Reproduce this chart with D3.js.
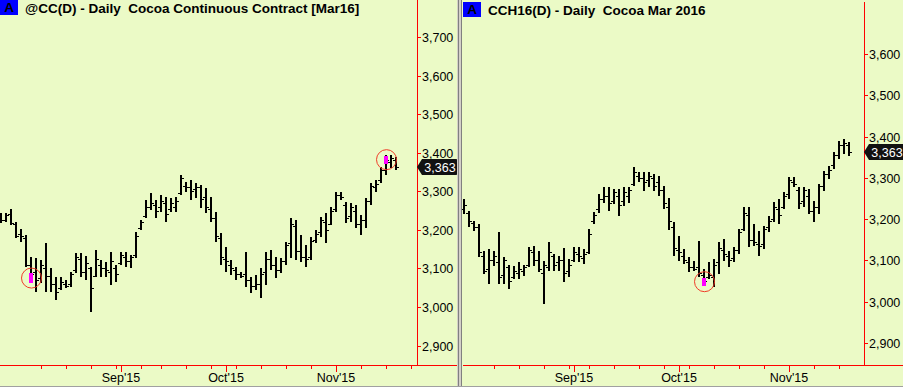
<!DOCTYPE html>
<html lang="en">
<head>
    <meta charset="UTF-8">
    <title>Cocoa daily bars</title>
    <script src="https://d3js.org/d3.v7.min.js"></script>
    <style>
        body {
            margin: 0;
            padding: 0;
            background-color: #ebfac6;
        }

        #chart {
            display: block;
            font-family: "Liberation Sans", Arial, sans-serif;
        }

        .title {
            font-size: 13.5px;
            font-weight: bold;
            white-space: pre;
        }

        .axis-label {
            font-size: 12.5px;
            fill: #000;
        }
    </style>
</head>
<body>
<svg id="chart" width="903" height="387"></svg>

<script>
    // Bars are [open, high, low, close]
    const leftBars = [
        [3235, 3244, 3218, 3225], [3225, 3244, 3220, 3238], [3240, 3254, 3213, 3218], [3215, 3220, 3179, 3185],
        [3190, 3202, 3169, 3185], [3180, 3187, 3104, 3110], [3110, 3130, 3062, 3085], [3090, 3127, 3039, 3070],
        [3075, 3122, 3062, 3110], [3100, 3166, 3039, 3080], [3080, 3101, 3039, 3060], [3060, 3078, 3018, 3040],
        [3050, 3078, 3044, 3065], [3060, 3070, 3049, 3055], [3060, 3091, 3052, 3085], [3095, 3140, 3088, 3130],
        [3125, 3140, 3078, 3090], [3090, 3132, 3070, 3115], [3100, 3104, 2987, 3050], [3080, 3148, 3078, 3125],
        [3110, 3122, 3078, 3100], [3100, 3117, 3078, 3095], [3090, 3143, 3057, 3120], [3100, 3109, 3065, 3085],
        [3115, 3143, 3109, 3135], [3130, 3143, 3104, 3120], [3120, 3135, 3101, 3130], [3135, 3194, 3127, 3185],
        [3205, 3226, 3200, 3220], [3235, 3277, 3231, 3260], [3260, 3296, 3252, 3270], [3265, 3277, 3231, 3250],
        [3260, 3290, 3246, 3275], [3270, 3285, 3220, 3240], [3255, 3283, 3246, 3270], [3260, 3285, 3246, 3275],
        [3295, 3342, 3290, 3335], [3315, 3324, 3298, 3310], [3310, 3329, 3277, 3300], [3305, 3322, 3283, 3310],
        [3310, 3316, 3257, 3280], [3285, 3309, 3244, 3260], [3255, 3285, 3220, 3230], [3230, 3246, 3169, 3185],
        [3180, 3192, 3109, 3130], [3125, 3156, 3091, 3120], [3110, 3122, 3083, 3100], [3095, 3104, 3070, 3085],
        [3085, 3091, 3075, 3080], [3085, 3143, 3052, 3070], [3070, 3078, 3036, 3055], [3055, 3083, 3044, 3060],
        [3060, 3101, 3023, 3085], [3090, 3143, 3057, 3125], [3125, 3148, 3096, 3110], [3110, 3130, 3075, 3095],
        [3095, 3127, 3088, 3120], [3120, 3169, 3109, 3160], [3165, 3231, 3127, 3215], [3210, 3226, 3122, 3145],
        [3145, 3187, 3117, 3130], [3130, 3161, 3104, 3125], [3130, 3182, 3122, 3170], [3175, 3200, 3166, 3190],
        [3195, 3233, 3182, 3225], [3220, 3244, 3166, 3200], [3215, 3259, 3213, 3250], [3255, 3298, 3246, 3290],
        [3290, 3298, 3277, 3285], [3265, 3272, 3218, 3230], [3235, 3270, 3220, 3260], [3250, 3264, 3205, 3215],
        [3215, 3239, 3187, 3225], [3225, 3283, 3205, 3275], [3275, 3322, 3264, 3315], [3310, 3329, 3298, 3320],
        [3330, 3363, 3322, 3355], [3355, 3394, 3342, 3380], [3375, 3394, 3360, 3385], [3380, 3389, 3355, 3363]
    ];

    const rightBars = [
        [3225, 3249, 3213, 3235], [3215, 3220, 3182, 3195], [3190, 3196, 3172, 3180], [3180, 3189, 3109, 3120],
        [3110, 3124, 3068, 3075], [3080, 3128, 3044, 3100], [3100, 3124, 3087, 3110], [3095, 3170, 3044, 3060],
        [3065, 3109, 3044, 3100], [3085, 3090, 3031, 3050], [3060, 3087, 3056, 3075], [3070, 3097, 3056, 3080],
        [3075, 3090, 3063, 3085], [3090, 3133, 3085, 3125], [3120, 3136, 3087, 3100], [3100, 3124, 3073, 3080],
        [3070, 3099, 2995, 3090], [3085, 3145, 3075, 3120], [3110, 3116, 3075, 3090], [3095, 3111, 3075, 3100],
        [3100, 3131, 3048, 3070], [3075, 3104, 3061, 3090], [3100, 3133, 3097, 3120], [3115, 3133, 3097, 3110],
        [3105, 3128, 3092, 3115], [3120, 3177, 3116, 3165], [3195, 3218, 3189, 3210], [3225, 3262, 3216, 3250],
        [3250, 3279, 3240, 3255], [3255, 3279, 3220, 3240], [3245, 3274, 3237, 3265], [3255, 3274, 3208, 3235],
        [3245, 3279, 3233, 3265], [3255, 3279, 3240, 3270], [3285, 3327, 3281, 3315], [3305, 3315, 3291, 3300],
        [3300, 3315, 3269, 3290], [3295, 3315, 3279, 3305], [3300, 3310, 3269, 3280], [3290, 3305, 3257, 3270],
        [3270, 3281, 3225, 3240], [3230, 3252, 3174, 3195], [3180, 3194, 3111, 3130], [3125, 3160, 3099, 3120],
        [3110, 3128, 3092, 3100], [3095, 3109, 3073, 3085], [3085, 3099, 3075, 3080], [3085, 3148, 3061, 3070],
        [3065, 3080, 3039, 3050], [3060, 3097, 3056, 3065], [3060, 3104, 3036, 3090], [3095, 3145, 3068, 3130],
        [3125, 3153, 3099, 3115], [3110, 3124, 3085, 3100], [3105, 3133, 3097, 3125], [3125, 3177, 3116, 3170],
        [3175, 3230, 3172, 3215], [3210, 3230, 3133, 3150], [3150, 3189, 3136, 3145], [3140, 3172, 3111, 3135],
        [3140, 3184, 3128, 3175], [3180, 3208, 3170, 3195], [3200, 3242, 3194, 3230], [3225, 3249, 3189, 3210],
        [3230, 3266, 3225, 3255], [3260, 3303, 3249, 3295], [3290, 3303, 3279, 3285], [3270, 3279, 3225, 3240],
        [3245, 3279, 3230, 3270], [3255, 3274, 3213, 3220], [3220, 3245, 3194, 3230], [3230, 3286, 3213, 3280],
        [3280, 3317, 3269, 3310], [3310, 3329, 3298, 3320], [3330, 3363, 3322, 3355], [3355, 3390, 3346, 3380],
        [3380, 3395, 3358, 3385], [3380, 3387, 3354, 3363]
    ];

    const leftTitle = '@CC(D) - Daily  Cocoa Continuous Contract [Mar16]';
    const rightTitle = 'CCH16(D) - Daily  Cocoa Mar 2016';

    const leftYTicks = [2900, 3000, 3100, 3200, 3300, 3400, 3500, 3600, 3700];
    const rightYTicks = [2900, 3000, 3100, 3200, 3300, 3400, 3500, 3600];

    const monthLabels = ["Sep'15", "Oct'15", "Nov'15"];
    const leftMonthIdx = [24, 45, 67];
    const rightMonthIdx = [22, 43, 65];
    const leftWeekIdx = [8, 13, 18, 23, 28, 32, 37, 42, 47, 52, 57, 62, 72, 77, 82];
    const rightWeekIdx = [6, 11, 16, 21, 25, 30, 35, 40, 45, 50, 55, 60, 70, 75];

    const lastPrice = 3363;

    // highlighted bars: bar index, top and bottom of the magenta mark
    const leftMarks = [[6, 3088, 3062], [77, 3392, 3372]];
    const rightMarks = [[48, 3058, 3039]];

    const svg = d3.select('#chart');
    const bg = '#ebfac6';

    svg.append('rect')
        .attr('width', 903)
        .attr('height', 387)
        .attr('fill', bg);

    function drawPanel(p) {
        const g = svg.append('g');

        const x = d3.scaleLinear()
            .domain([0, p.bars.length - 1])
            .range([p.firstX, p.firstX + 5 * (p.bars.length - 1)]);
        const y = d3.scaleLinear()
            .domain(p.yDomain)
            .range(p.yRange);

        // axis frame
        g.append('line')
            .attr('x1', p.axisX + 0.5).attr('x2', p.axisX + 0.5)
            .attr('y1', p.top).attr('y2', 365)
            .attr('stroke', 'red');
        g.append('line')
            .attr('x1', p.left).attr('x2', p.right)
            .attr('y1', 365.5).attr('y2', 365.5)
            .attr('stroke', 'red');

        // price axis
        const yt = g.selectAll('.ytick')
            .data(p.yTicks)
            .join('g')
            .attr('transform', d => `translate(${p.axisX},${Math.round(y(d)) + 0.5})`);
        yt.append('line')
            .attr('x1', 0).attr('x2', 4)
            .attr('stroke', 'red');
        yt.append('text')
            .attr('class', 'axis-label')
            .attr('x', 5)
            .attr('dy', '0.36em')
            .text(d => d3.format(',')(d));

        // time axis
        g.selectAll('.wtick')
            .data(p.weekIdx)
            .join('line')
            .attr('x1', d => Math.round(x(d)) + 0.5)
            .attr('x2', d => Math.round(x(d)) + 0.5)
            .attr('y1', 366).attr('y2', 369)
            .attr('stroke', 'red');
        g.selectAll('.mtick')
            .data(p.monthIdx)
            .join('line')
            .attr('x1', d => Math.round(x(d)) + 0.5)
            .attr('x2', d => Math.round(x(d)) + 0.5)
            .attr('y1', 366).attr('y2', 372)
            .attr('stroke', 'red');
        g.selectAll('.mlabel')
            .data(p.monthIdx)
            .join('text')
            .attr('class', 'axis-label')
            .attr('x', d => x(d))
            .attr('y', 382)
            .attr('text-anchor', 'middle')
            .text((d, i) => monthLabels[i]);

        // OHLC bars
        const bar = g.selectAll('.bar')
            .data(p.bars)
            .join('g')
            .attr('shape-rendering', 'crispEdges');
        bar.append('rect')
            .attr('x', (d, i) => Math.round(x(i)) - 1)
            .attr('y', d => Math.round(y(d[1])))
            .attr('width', 2)
            .attr('height', d => Math.max(1, Math.round(y(d[2])) - Math.round(y(d[1]))))
            .attr('fill', '#000');
        bar.append('rect')
            .attr('x', (d, i) => Math.round(x(i)) - 3)
            .attr('y', d => Math.round(y(d[0])))
            .attr('width', 2)
            .attr('height', 1)
            .attr('fill', '#000');
        bar.append('rect')
            .attr('x', (d, i) => Math.round(x(i)) + 1)
            .attr('y', d => Math.round(y(d[3])))
            .attr('width', 2)
            .attr('height', 1)
            .attr('fill', '#000');

        // highlighted bars
        p.marks.forEach(m => {
            const cx = Math.round(x(m[0]));
            g.append('rect')
                .attr('x', cx - 2)
                .attr('y', Math.round(y(m[1])))
                .attr('width', 4)
                .attr('height', Math.round(y(m[2])) - Math.round(y(m[1])))
                .attr('fill', '#ff00ff');
            g.append('circle')
                .attr('cx', cx + 0.5)
                .attr('cy', (y(m[1]) + y(m[2])) / 2)
                .attr('r', 10)
                .attr('fill', 'none')
                .attr('stroke', '#f03c28')
                .attr('stroke-width', 1);
        });

        // last price tag
        const ty = Math.round(y(lastPrice));
        const tx = p.axisX;
        g.append('path')
            .attr('d', `M${tx},${ty} L${tx + 5},${ty - 8} L${tx + 39},${ty - 8} Q${tx + 41},${ty - 8} ${tx + 41},${ty - 6}
                L${tx + 41},${ty + 6} Q${tx + 41},${ty + 8} ${tx + 39},${ty + 8} L${tx + 5},${ty + 8} Z`)
            .attr('fill', '#111');
        g.append('text')
            .attr('class', 'axis-label')
            .attr('x', tx + 23)
            .attr('y', ty)
            .attr('dy', '0.36em')
            .attr('text-anchor', 'middle')
            .style('fill', '#fff')
            .text(d3.format(',')(lastPrice));

        // title
        g.append('rect')
            .attr('x', p.left).attr('y', p.top)
            .attr('width', 18).attr('height', 15)
            .attr('fill', '#0000ff');
        g.append('text')
            .attr('class', 'title')
            .attr('x', p.left + 9).attr('y', p.top + 12)
            .attr('text-anchor', 'middle')
            .text('A');
        g.append('text')
            .attr('class', 'title')
            .attr('x', p.left + 25).attr('y', p.top + 13)
            .text(p.title);
    }

    drawPanel({
        bars: leftBars, title: leftTitle, yTicks: leftYTicks,
        monthIdx: leftMonthIdx, weekIdx: leftWeekIdx, marks: leftMarks,
        left: 0, right: 457, top: 0, axisX: 417, firstX: 1,
        yDomain: [3000, 3700], yRange: [307, 37]
    });

    drawPanel({
        bars: rightBars, title: rightTitle, yTicks: rightYTicks,
        monthIdx: rightMonthIdx, weekIdx: rightWeekIdx, marks: rightMarks,
        left: 463, right: 903, top: 2, axisX: 864, firstX: 464,
        yDomain: [2900, 3600], yRange: [343, 54]
    });

    // panel separator and bottom border
    svg.append('rect').attr('x', 457).attr('y', 0).attr('width', 5).attr('height', 387).attr('fill', '#d4d0c8');
    svg.append('rect').attr('x', 458).attr('y', 0).attr('width', 1).attr('height', 387).attr('fill', '#808080');
    svg.append('rect').attr('x', 461).attr('y', 0).attr('width', 1).attr('height', 387).attr('fill', '#808080');
    svg.append('rect').attr('x', 0).attr('y', 386).attr('width', 903).attr('height', 1).attr('fill', '#a0a0a0');
</script>
</body>
</html>
